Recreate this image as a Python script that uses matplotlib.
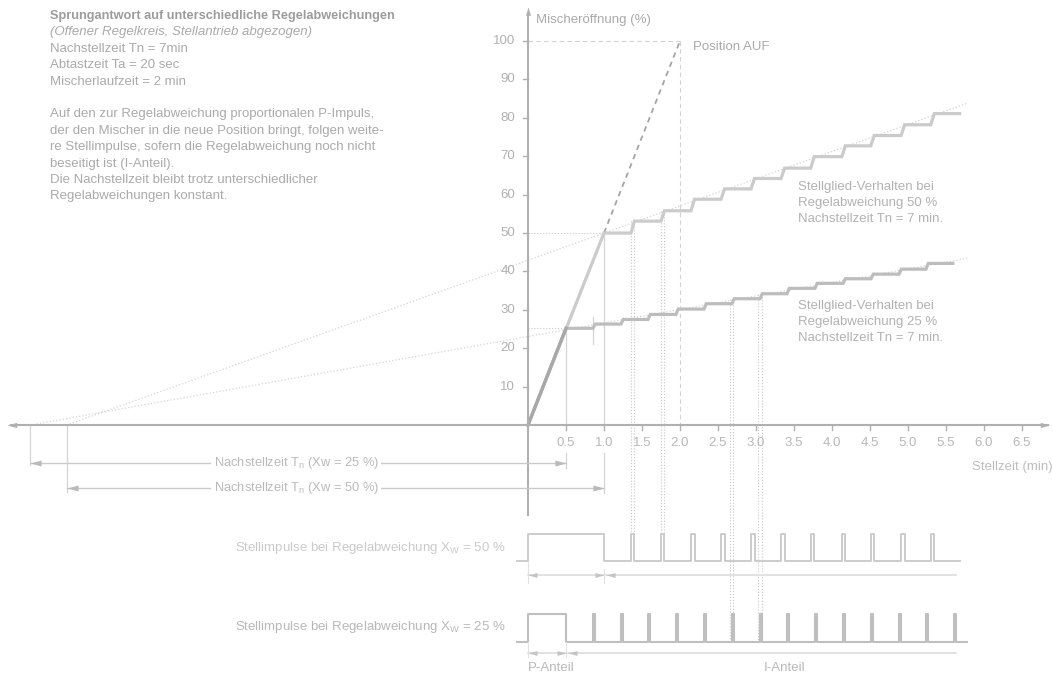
import numpy as np
import matplotlib
matplotlib.use("Agg")
import matplotlib.pyplot as plt
from matplotlib.path import Path

plt.rcParams['font.family'] = ['Liberation Sans', 'DejaVu Sans']

# values
x_ticks = [0.5, 1.0, 1.5, 2.0, 2.5, 3.0, 3.5, 4.0, 4.5, 5.0, 5.5, 6.0, 6.5]
y_ticks = [10, 20, 30, 40, 50, 60, 70, 80, 90, 100]

# Regelabweichung 50 %: P-Impuls bis 1.0 min, danach I-Impulse
p_end50 = 1.0
pulses50 = [1.355, 1.75, 2.145, 2.54, 2.935, 3.33, 3.72, 4.13, 4.51, 4.91, 5.30]
levels50 = [50, 53.1, 55.8, 58.8, 61.5, 64.2, 66.9, 69.9, 72.7, 75.4, 78.2, 81.1]
end50 = 5.68

# Regelabweichung 25 %: P-Impuls bis 0.5 min
p_end25 = 0.5
pulses25 = [0.855, 1.224, 1.579, 1.947, 2.316, 2.684, 3.053, 3.408, 3.776,
            4.145, 4.513, 4.882, 5.237, 5.605]
levels25 = [25.2, 26.3, 27.5, 28.8, 30.2, 31.6, 32.9, 34.2, 35.6, 36.9,
            38.1, 39.3, 40.6, 42.1]
end25 = 5.59

# Nachstellzeit: Schnittpunkte der Geraden mit der Zeitachse, Endpunkte
tn_start25, tn_start50 = -6.55, -6.07
ref_end25 = (5.78, 43.4)
ref_end50 = (5.78, 83.8)
auf_time, auf_pos = 2.0, 100

# pulse train levels (below time axis, in chart units)
top50, base50, arr50 = -28.4, -35.3, -39.1
top25, base25, arr25 = -49.2, -56.4, -59.4

ax_col = '#b0b0b0'
txt_col = '#aaaaaa'
light = '#d4d4d4'


def staircase(p_end, pulses, levels, end, rise):
    xs, ys = [0, p_end], [0, levels[0]]
    for p, lv in zip(pulses, levels[1:]):
        if p >= end:
            break
        xs += [p, p + rise]
        ys += [ys[-1], lv]
    xs.append(end)
    ys.append(ys[-1])
    return xs, ys


def train(p_end, pulses, end, width, top, base, x0):
    xs = [x0, 0, 0, p_end, p_end]
    ys = [base, base, top, top, base]
    for p in pulses:
        if p >= end:
            break
        xs += [p, p, p + width, p + width]
        ys += [base, top, top, base]
    xs.append(end)
    ys.append(base)
    return xs, ys


head_l = Path([(0, 0), (1, 0.27), (1, -0.27), (0, 0)],
              [Path.MOVETO, Path.LINETO, Path.LINETO, Path.CLOSEPOLY])
head_r = Path([(0, 0), (-1, 0.27), (-1, -0.27), (0, 0)],
              [Path.MOVETO, Path.LINETO, Path.LINETO, Path.CLOSEPOLY])
head_u = Path([(0, 0), (0.3, -1), (-0.3, -1), (0, 0)],
              [Path.MOVETO, Path.LINETO, Path.LINETO, Path.CLOSEPOLY])


fig = plt.figure(figsize=(10.53, 6.77), dpi=100)
ax = fig.add_axes([0, 0, 1, 1])
ax.set_xlim(-6.947, 6.908)
ax.set_ylim(-65.6, 110.68)
ax.axis('off')

# reference lines (Nachstellzeit)
ax.plot([tn_start25, ref_end25[0]], [0, ref_end25[1]], ':', color='#d4d4d4', lw=0.9)
ax.plot([tn_start50, ref_end50[0]], [0, ref_end50[1]], ':', color='#d4d4d4', lw=0.9)

# helper lines
ax.plot([0, p_end50], [levels50[0]] * 2, ':', color='#cccccc', lw=0.8)
ax.plot([0, p_end25], [levels25[0]] * 2, ':', color='#cccccc', lw=0.8)
ax.plot([0, auf_time], [auf_pos] * 2, '--', color='#d2d2d2', lw=0.8, dashes=(4, 3))
ax.plot([auf_time] * 2, [auf_pos, 0], '--', color='#d2d2d2', lw=0.8, dashes=(4, 3))
ax.plot([p_end50, auf_time], [levels50[0], auf_pos], '--', color='#a4a4a4', lw=1.3, dashes=(3, 2.5))
ax.plot([p_end25] * 2, [levels25[0], 0], color=light, lw=0.9)
ax.plot([p_end50] * 2, [levels50[0], 0], color=light, lw=0.9)
ax.plot([p_end25] * 2, [-7.3, -11.2], color=light, lw=0.9)
ax.plot([p_end50] * 2, [-7.3, -17.6], color=light, lw=0.9)
ax.plot([tn_start25] * 2, [0, -10.4], color=light, lw=0.9)
ax.plot([tn_start50] * 2, [0, -17.4], color=light, lw=0.9)
ax.plot([pulses25[0]] * 2, [21.1, 28.2], color=light, lw=0.9)

# dotted links between curve steps and pulses
w50, w25 = 0.046, 0.022
for i in [0, 1]:
    for off in [0, w50]:
        ax.plot([pulses50[i] + off] * 2, [levels50[i + 1], top50], ':', color='#c8c8c8', lw=0.8)
for i in [5, 6]:
    for off in [-0.02, 0.02]:
        ax.plot([pulses25[i] + off] * 2, [levels25[i + 1], base25], ':', color='#c8c8c8', lw=0.8)

# step responses
xs, ys = staircase(p_end50, pulses50, levels50, end50, w50)
ax.plot(xs, ys, color='#cbcbcb', lw=2.3, solid_joinstyle='miter')
xs, ys = staircase(p_end25, pulses25, levels25, end25, 0.03)
ax.plot(xs, ys, color='#bdbdbd', lw=2.3, solid_joinstyle='miter')
ax.plot([0, p_end25], [0, levels25[0]], color='#a8a8a8', lw=2.3)

# axes
ax.plot([-6.8, 6.84], [0, 0], color=ax_col, lw=1.5)
ax.plot([0, 0], [-23.4, 107], color=ax_col, lw=1.5)
ax.plot([6.87], [0], marker=head_r, ms=14, color=ax_col, mew=0)
ax.plot([-6.86], [0], marker=head_l, ms=14, color=ax_col, mew=0)
ax.plot([0], [108.8], marker=head_u, ms=12, color=ax_col, mew=0)
for t in x_ticks:
    ax.plot([t, t], [0, -1.4], color=ax_col, lw=1)
    ax.text(t, -4.8, f'{t:.1f}', ha='center', va='center', fontsize=9.5, color='#b8b8b8')
for v in y_ticks:
    ax.plot([-0.06, 0], [v, v], color=ax_col, lw=1)
    ax.text(-0.17, v, f'{v}', ha='right', va='center', fontsize=9.5, color='#b0b0b0')
ax.text(0.11, 105.6, 'Mischeröffnung (%)', ha='left', va='center', fontsize=9.5, color=txt_col)
ax.text(6.9, -10.8, 'Stellzeit (min)', ha='right', va='center', fontsize=9.5, color='#bdbdbd')
ax.text(2.17, 98.4, 'Position AUF', ha='left', va='center', fontsize=9.5, color=txt_col)

for i, s in enumerate(['Stellglied-Verhalten bei', 'Regelabweichung 50 %', 'Nachstellzeit Tn = 7 min.']):
    ax.text(3.55, 62 - i * 4.2, s, ha='left', va='center', fontsize=9.5, color='#b2b2b2')
for i, s in enumerate(['Stellglied-Verhalten bei', 'Regelabweichung 25 %', 'Nachstellzeit Tn = 7 min.']):
    ax.text(3.55, 31 - i * 4.2, s, ha='left', va='center', fontsize=9.5, color='#b2b2b2')

# Nachstellzeit arrows
for start, end, yv, pct in [(tn_start25, p_end25, -9.9, 25), (tn_start50, p_end50, -16.4, 50)]:
    ax.plot([start, end], [yv, yv], color='#cacaca', lw=1)
    ax.plot([start], [yv], marker=head_l, ms=16, color='#bababa', mew=0)
    ax.plot([end], [yv], marker=head_r, ms=16, color='#bababa', mew=0)
    ax.text(-3.05, yv, r'Nachstellzeit T$_\mathregular{n}$ (Xw = %d %%)' % pct, ha='center', va='center',
            fontsize=9.3, color='#bababa',
            bbox=dict(facecolor='white', edgecolor='none', pad=1.5))

# pulse trains
xs, ys = train(p_end50, pulses50, end50, w50, top50, base50, -0.145)
ax.plot(xs, ys, color='#c8c8c8', lw=1.3)
xs, ys = train(p_end25, pulses25, 5.78, w25, top25, base25, -0.145)
ax.plot(xs, ys, color='#bfbfbf', lw=1.5)

ax.plot([0, 0], [base50, -41], color='#e2e2e2', lw=0.8)
ax.plot([p_end50] * 2, [-37.6, -41], color='#e2e2e2', lw=0.8)
ax.plot([0, 0], [base25, -60.4], color='#e2e2e2', lw=0.8)
ax.plot([p_end25] * 2, [base25, -60.4], color='#e2e2e2', lw=0.8)

for p_end, yv in [(p_end50, arr50), (p_end25, arr25)]:
    ax.plot([0, p_end], [yv, yv], color='#dddddd', lw=1.2)
    ax.plot([p_end + 0.03, 5.63], [yv, yv], color='#dddddd', lw=1.2)
    ax.plot([0], [yv], marker=head_l, ms=13, color='#c4c4c4', mew=0)
    ax.plot([p_end], [yv], marker=head_r, ms=13, color='#c4c4c4', mew=0)
    ax.plot([p_end + 0.03], [yv], marker=head_l, ms=13, color='#c4c4c4', mew=0)

ax.text(-0.3, -32, r'Stellimpulse bei Regelabweichung X$_\mathregular{W}$ = 50 %', ha='right', va='center',
        fontsize=9.5, color='#cacaca')
ax.text(-0.3, -52.6, r'Stellimpulse bei Regelabweichung X$_\mathregular{W}$ = 25 %', ha='right', va='center',
        fontsize=9.5, color='#b8b8b8')
ax.text(0, -63.2, 'P-Anteil', ha='left', va='center', fontsize=9.5, color='#b8b8b8')
ax.text(3.38, -63.2, 'I-Anteil', ha='center', va='center', fontsize=9.5, color='#b8b8b8')

# description block
lines = [
    ('Sprungantwort auf unterschiedliche Regelabweichungen', 'bold', 'normal'),
    ('(Offener Regelkreis, Stellantrieb abgezogen)', 'normal', 'italic'),
    ('Nachstellzeit Tn = 7min', 'normal', 'normal'),
    ('Abtastzeit Ta = 20 sec', 'normal', 'normal'),
    ('Mischerlaufzeit = 2 min', 'normal', 'normal'),
    ('', 'normal', 'normal'),
    ('Auf den zur Regelabweichung proportionalen P-Impuls,', 'normal', 'normal'),
    ('der den Mischer in die neue Position bringt, folgen weite-', 'normal', 'normal'),
    ('re Stellimpulse, sofern die Regelabweichung noch nicht', 'normal', 'normal'),
    ('beseitigt ist (I-Anteil).', 'normal', 'normal'),
    ('Die Nachstellzeit bleibt trotz unterschiedlicher', 'normal', 'normal'),
    ('Regelabweichungen konstant.', 'normal', 'normal'),
]
for i, (s, wgt, sty) in enumerate(lines):
    ax.text(-6.29, 106.5 - i * 4.27, s, ha='left', va='center',
            fontsize=9.2 if wgt == 'bold' else 9.5,
            fontweight=wgt, fontstyle=sty, color='#9c9c9c' if wgt == 'bold' else txt_col)

fig.savefig('out.png', dpi=100)
